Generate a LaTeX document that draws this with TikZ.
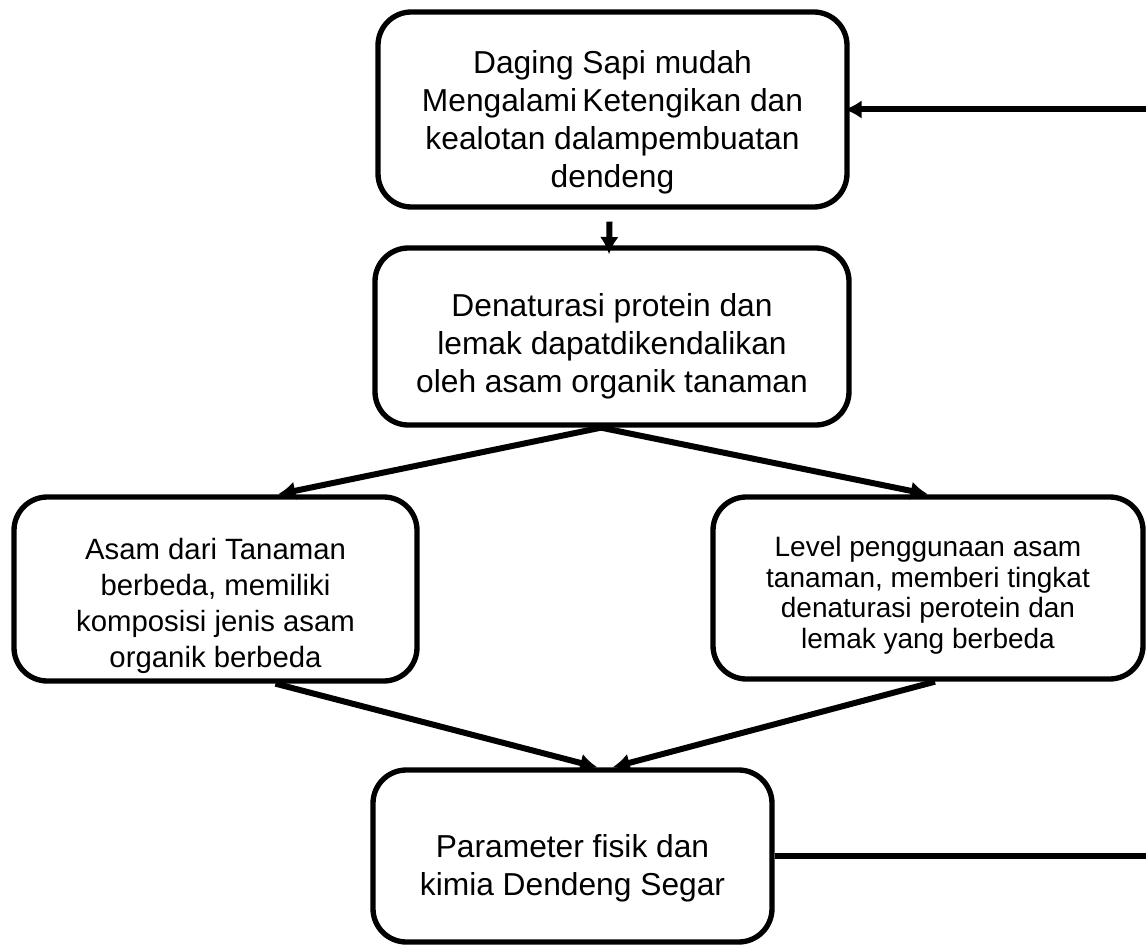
\documentclass[tikz,border=0pt]{standalone}
\usepackage{fontspec}
\setmainfont{Liberation Sans}
\usetikzlibrary{arrows.meta,positioning}

\begin{document}
\begin{tikzpicture}[x=0.75pt, y=-0.75pt,
        box/.style={rectangle, draw, line width=4pt, rounded corners=25pt, align=center},
        large/.style={font=\fontsize{23.8}{28.5}\selectfont},
        line/.style={draw, line width=4.5pt, -{Latex[length=13pt,width=14pt]}}]

        \useasboundingbox (0,0) rectangle (1146,945);
        \clip (0,0) rectangle (1146,945);

        \node [box, large, minimum width=351.75pt, minimum height=146.25pt] (sapi) at (612.5,109.5)
            {\rule{0pt}{36pt}Daging Sapi mudah\\Mengalami\,Ketengikan dan\\kealotan dalampembuatan\\dendeng};
        \node [box, large, minimum width=355.5pt, minimum height=132.75pt] (denat) at (612,336.5)
            {\rule{0pt}{32pt}Denaturasi protein dan\\lemak dapatdikendalikan\\oleh asam organik tanaman};
        \node [box, font=\fontsize{22}{27}\selectfont, minimum width=302.25pt, minimum height=138pt] (asam) at (215.5,589)
            {\rule{0pt}{42pt}Asam dari Tanaman\\berbeda, memiliki\\komposisi jenis asam\\organik berbeda};
        \node [box, font=\fontsize{21}{22.9}\selectfont, minimum width=322.5pt, minimum height=136.5pt] (level) at (928,588)
            {\rule{0pt}{26pt}Level penggunaan asam\\tanaman, memberi tingkat\\denaturasi perotein dan\\lemak yang berbeda};
        \node [box, large, minimum width=299.25pt, minimum height=129pt] (param) at (572.5,856)
            {\rule{0pt}{35pt}Parameter fisik dan\\kimia Dendeng Segar};

        \coordinate (edge) at (1175,480);

        \path [line] ([shift={(-3,12)}]sapi.south) -- ([shift={(-3,9)}]denat.north);
        \path [line] ([shift={(-11,0)}]denat.south) -- ([shift={(62.5,0)}]asam.north);
        \path [line] ([shift={(-11,0)}]denat.south) -- (level.north);
        \path [line] ([shift={(60,0)}]asam.south) -- ([shift={(25,0)}]param.north);
        \path [line] ([shift={(7,0)}]level.south) -- ([shift={(40,0)}]param.north);

        \draw [line] (param.east) -| (edge) |- ([xshift=-4pt]sapi.east);

    \end{tikzpicture}
\end{document}
